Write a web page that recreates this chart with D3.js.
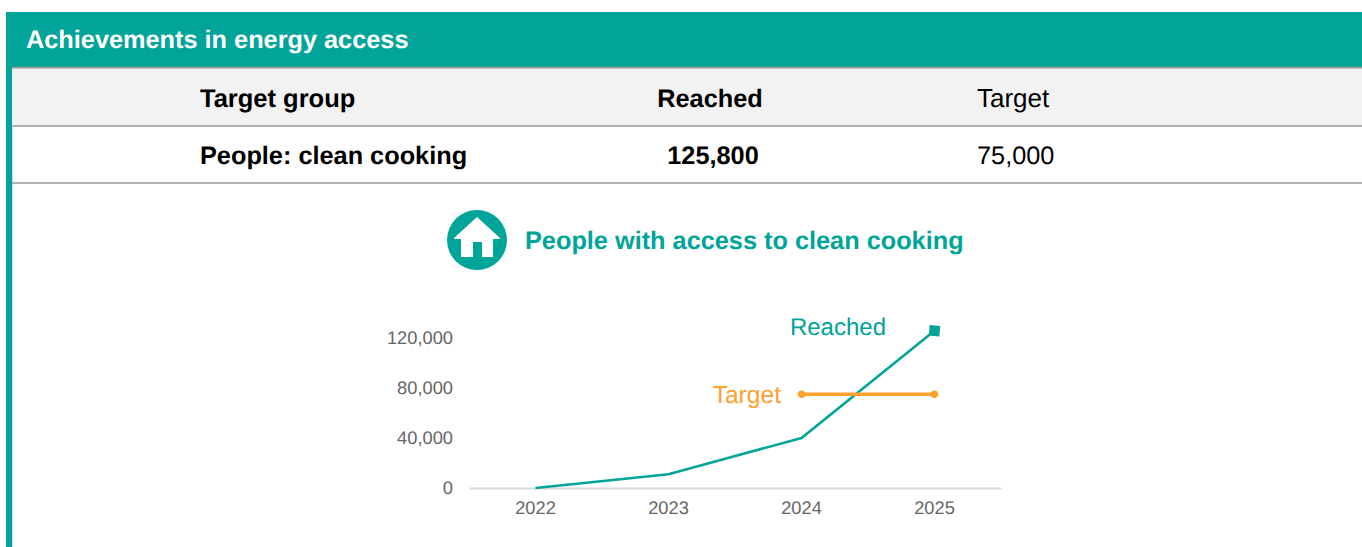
<!DOCTYPE html>
<html><head><meta charset="utf-8">
<script src="https://cdn.jsdelivr.net/npm/d3@7"></script>
<style>html,body{margin:0;padding:0;background:#fff;overflow:hidden}svg{display:block;font-family:"Liberation Sans",Arial,sans-serif;text-rendering:geometricPrecision}</style>
</head><body><svg id="c" width="1362" height="547"></svg>
<script>
const years = ["2022","2023","2024","2025"];
const reached = [0,11000,40000,125800];
const targetYears = ["2024","2025"];
const targetValues = [75000,75000];
const yTicks = [0,40000,80000,120000];
const tableHeader = ["Target group","Reached","Target"];
const tableRow = ["People: clean cooking","125,800","75,000"];
const TEAL="#00a499", ORANGE="#ffa02f";
const svg=d3.select("#c");
svg.append("rect").attr("x",6).attr("y",12).attr("width",1356).attr("height",55.5).attr("fill",TEAL);
svg.append("rect").attr("x",6).attr("y",12).attr("width",6.3).attr("height",535).attr("fill",TEAL);
svg.append("rect").attr("x",12.3).attr("y",68).attr("width",1350).attr("height",58).attr("fill","#f2f2f2");
[67.7,126,183].forEach(y=>svg.append("line").attr("x1",12.3).attr("x2",1362).attr("y1",y).attr("y2",y).attr("stroke","#989898").attr("stroke-width",1.7));
svg.append("text").attr("x",26).attr("y",48).attr("font-size",25.3).attr("font-weight",700).attr("fill","#fff").text("Achievements in energy access");
const colX=[200,710,977], anchors=["start","middle","start"];
tableHeader.forEach((t,i)=>svg.append("text").attr("x",colX[i]).attr("y",107).attr("text-anchor",anchors[i]).attr("font-size",i==2?26:i==0?25.5:25.3).attr("font-weight",i<2?700:400).attr("fill","#000").text(t));
tableRow.forEach((t,i)=>svg.append("text").attr("x",i==1?713:colX[i]).attr("y",164).attr("text-anchor",anchors[i]).attr("font-size",25.3).attr("font-weight",i<2?700:400).attr("fill","#000").text(t));
// icon
const icon=svg.append("g").attr("transform","translate(477,240)");
icon.append("circle").attr("r",30).attr("fill",TEAL);
icon.append("path").attr("fill","#fff").attr("d","M0,-23 L23,-2 L23,-1 L16,-1 L16,17 L5,17 L5,2 L-4,2 L-4,17 L-16,17 L-16,-1 L-23,-1 L-23,-2 Z");
svg.append("text").attr("x",525).attr("y",249).attr("font-size",25.3).attr("font-weight",700).attr("fill",TEAL).text("People with access to clean cooking");
// chart
const x=d3.scaleBand().domain(years).range([469,1001]);
const y=d3.scaleLinear().domain([0,120000]).range([488,338]);
const cx=d=>x(d)+x.bandwidth()/2;
const yAxis=d3.axisLeft(y).tickValues(yTicks).tickSize(0).tickPadding(0).tickFormat(d3.format(","));
const gy=svg.append("g").attr("transform","translate(453,0)").call(yAxis);
gy.select(".domain").remove();
gy.selectAll("text").attr("font-size",18.3).attr("font-family","Liberation Sans").attr("fill","#666");
const xAxis=d3.axisBottom(x).tickSize(0).tickPadding(13);
const gx=svg.append("g").attr("transform","translate(0,488)").call(xAxis);
gx.select(".domain").attr("stroke","#d9d9d9").attr("stroke-width",2);
gx.selectAll("text").attr("font-size",18.3).attr("font-family","Liberation Sans").attr("fill","#666");
const line=d3.line().x(d=>cx(d[0])).y(d=>y(d[1]));
svg.append("path").datum(years.map((d,i)=>[d,reached[i]])).attr("d",line).attr("fill","none").attr("stroke",TEAL).attr("stroke-width",2.6);
svg.append("rect").attr("x",-5.3).attr("y",-5.3).attr("width",10.6).attr("height",10.6).attr("fill",TEAL)
  .attr("transform",`translate(${cx("2025")},${y(125800)}) rotate(5)`);
const tp=targetYears.map((d,i)=>[d,targetValues[i]]);
svg.append("path").datum(tp).attr("d",line).attr("fill","none").attr("stroke",ORANGE).attr("stroke-width",3.6);
svg.selectAll("circle.t").data(tp).join("circle").attr("class","t").attr("cx",d=>cx(d[0])).attr("cy",d=>y(d[1])).attr("r",3.8).attr("fill",ORANGE);
svg.append("text").attr("x",886).attr("y",335).attr("text-anchor","end").attr("font-size",24).attr("fill",TEAL).text("Reached");
svg.append("text").attr("x",781).attr("y",403).attr("text-anchor","end").attr("font-size",24.6).attr("fill",ORANGE).text("Target");
</script></body></html>
